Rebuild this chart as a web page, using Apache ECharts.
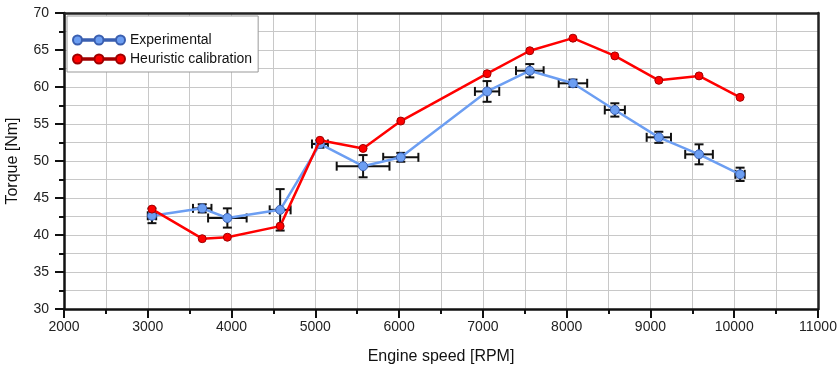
<!DOCTYPE html>
<html>
<head>
<meta charset="utf-8">
<script src="https://cdn.jsdelivr.net/npm/echarts@6/dist/echarts.min.js"></script>
<style>
  html, body { margin: 0; padding: 0; background: #fff; }
  #chart { width: 839px; height: 367px; }
</style>
</head>
<body>
<div id="chart"></div>
<script>
// engine speed [RPM] of each measured point
var rpm = [3050, 3650, 3950, 4580, 5055, 5570, 6020, 7050, 7560, 8075, 8575, 9100, 9580, 10070]
// measured torque [Nm]
var experimental = [42.6, 43.6, 42.3, 43.4, 52.3, 49.3, 50.5, 59.4, 62.2, 60.5, 56.9, 53.2, 50.9, 48.2]
// heuristic calibration torque [Nm]
var heuristic = [43.5, 39.5, 39.7, 41.2, 52.8, 51.7, 55.4, 61.8, 64.9, 66.6, 64.2, 60.9, 61.5, 58.6]
// error of experimental points
var rpmErr = [50, 110, 230, 125, 95, 315, 210, 145, 165, 170, 120, 145, 165, 55]
var torqueErr = [1.0, 0.55, 1.3, 2.8, 0.5, 1.5, 0.6, 1.4, 0.9, 0.5, 0.9, 0.75, 1.35, 0.9]

var xTicks = [2000, 11000, 1000]
var yTicks = [30, 70, 5]

var fontFamily = 'Liberation Sans, Arial, sans-serif'
var blue = '#6c9ef2'
var red = '#ff0000'

var myChart = echarts.init(document.getElementById('chart'))

var zip = function (a, b) {
  return a.map(function (v, i) { return [v, b[i]] })
}
var errData = rpm.map(function (v, i) {
  return [v, experimental[i], rpmErr[i], torqueErr[i]]
})

// legend icon: line with 3 dots
var legendIcon = 'path://M0,4.5A4.5,4.5 0 1,1 9,4.5A4.5,4.5 0 1,1 0,4.5Z' +
  'M21.5,4.5A4.5,4.5 0 1,1 30.5,4.5A4.5,4.5 0 1,1 21.5,4.5Z' +
  'M43,4.5A4.5,4.5 0 1,1 52,4.5A4.5,4.5 0 1,1 43,4.5Z' +
  'M9,3.8L21.5,3.8L21.5,5.2L9,5.2Z M30.5,3.8L43,3.8L43,5.2L30.5,5.2Z'

var axisCommon = {
  axisLine: { show: true, onZero: false, lineStyle: { color: '#111', width: 2.5 } },
  axisTick: { show: true, inside: false, length: 9, lineStyle: { color: '#111', width: 2 } },
  minorTick: { show: true, splitNumber: 2, length: 5, lineStyle: { color: '#111', width: 2 } },
  splitLine: { show: true, lineStyle: { color: '#c8c8c8', width: 1 } },
  minorSplitLine: { show: true, lineStyle: { color: '#c8c8c8', width: 1 } }
}

var frameAxis = {
  axisLine: { show: true, onZero: false, lineStyle: { color: '#222', width: 2.5 } },
  axisTick: { show: false },
  axisLabel: { show: false },
  splitLine: { show: false }
}

var option = {
  animation: false,
  grid: { left: 64, right: 21, top: 13, bottom: 58, containLabel: false, outerBoundsMode: 'none' },
  legend: {
    orient: 'vertical',
    left: 67,
    top: 16,
    padding: [17, 6, 6, 5],
    itemGap: 5,
    itemWidth: 52,
    itemHeight: 9,
    backgroundColor: '#fff',
    borderColor: '#999',
    borderWidth: 1,
    textStyle: { color: '#111', fontSize: 14, fontFamily: fontFamily },
    data: [
      { name: 'Experimental', icon: legendIcon },
      { name: 'Heuristic calibration', icon: legendIcon }
    ]
  },
  xAxis: [
    Object.assign({}, axisCommon, {
      type: 'value',
      min: xTicks[0],
      max: xTicks[1],
      interval: xTicks[2],
      name: 'Engine speed [RPM]',
      nameLocation: 'middle',
      nameGap: 40,
      nameTextStyle: { color: '#111', fontSize: 16, fontFamily: fontFamily },
      axisLabel: {
        color: '#222', fontSize: 14, fontFamily: fontFamily, margin: 11,
        formatter: function (v) { return String(v) }
      }
    }),
    Object.assign({}, frameAxis, { type: 'value', position: 'top', min: xTicks[0], max: xTicks[1] })
  ],
  yAxis: [
    Object.assign({}, axisCommon, {
      type: 'value',
      min: yTicks[0],
      max: yTicks[1],
      interval: yTicks[2],
      name: 'Torque [Nm]',
      nameLocation: 'middle',
      nameGap: 43,
      nameTextStyle: { color: '#111', fontSize: 16, fontFamily: fontFamily },
      axisLabel: { color: '#222', fontSize: 14, fontFamily: fontFamily, margin: 15 }
    }),
    Object.assign({}, frameAxis, { type: 'value', position: 'right', min: yTicks[0], max: yTicks[1] })
  ],
  series: [
    {
      // error bars
      type: 'custom',
      z: 1,
      silent: true,
      data: errData,
      encode: { x: 0, y: 1 },
      renderItem: function (params, api) {
        var x = api.value(0), y = api.value(1), dx = api.value(2), dy = api.value(3)
        var l = api.coord([x - dx, y])
        var r = api.coord([x + dx, y])
        var t = api.coord([x, y + dy])
        var b = api.coord([x, y - dy])
        var cap = 4.5
        var style = { stroke: '#111', lineWidth: 2 }
        var line = function (x1, y1, x2, y2) {
          return { type: 'line', shape: { x1: x1, y1: y1, x2: x2, y2: y2 }, style: style }
        }
        return {
          type: 'group',
          children: [
            line(l[0], l[1], r[0], r[1]),
            line(t[0], t[1], b[0], b[1]),
            line(l[0], l[1] - cap, l[0], l[1] + cap),
            line(r[0], r[1] - cap, r[0], r[1] + cap),
            line(t[0] - cap, t[1], t[0] + cap, t[1]),
            line(b[0] - cap, b[1], b[0] + cap, b[1])
          ]
        }
      }
    },
    {
      name: 'Experimental',
      type: 'line',
      z: 2,
      data: zip(rpm, experimental),
      symbol: 'circle',
      symbolSize: 9,
      lineStyle: { color: blue, width: 2.5 },
      itemStyle: { color: blue, borderColor: '#3a5fb0', borderWidth: 1 }
    },
    {
      name: 'Heuristic calibration',
      type: 'line',
      z: 3,
      data: zip(rpm, heuristic),
      symbol: 'circle',
      symbolSize: 8,
      lineStyle: { color: red, width: 2.5 },
      itemStyle: { color: red, borderColor: '#a00000', borderWidth: 1 }
    }
  ]
}

myChart.setOption(option, true)
</script>
</body>
</html>
